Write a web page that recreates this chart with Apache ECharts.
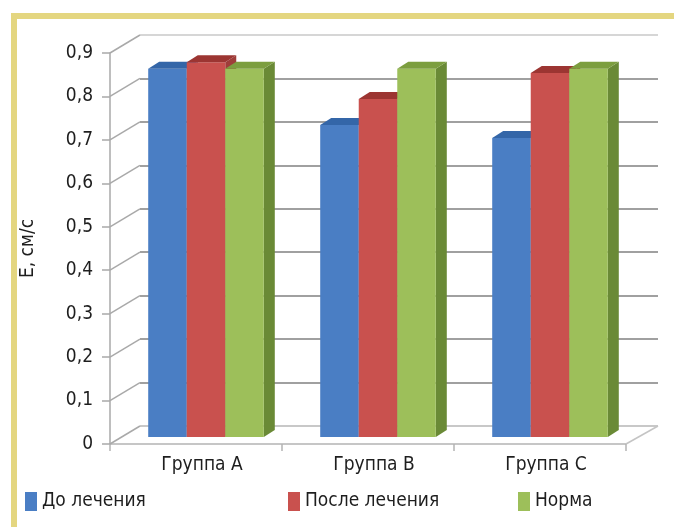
<!DOCTYPE html>
<html>
<head>
<meta charset="utf-8">
<script src="https://cdn.jsdelivr.net/npm/echarts@6/dist/echarts.min.js"></script>
<style>
    html, body { margin: 0; padding: 0; background: #fff; }
    #chart { width: 674px; height: 527px; }
</style>
</head>
<body>
<div id="chart"></div>
<script>
    var categories = ['Группа A', 'Группа B', 'Группа C'];
    var seriesNames = ['До лечения', 'После лечения', 'Норма'];
    var beforeValues = [0.85, 0.72, 0.69];
    var afterValues = [0.865, 0.78, 0.84];
    var normValues = [0.85, 0.85, 0.85];
    var yTickValues = [0, 0.1, 0.2, 0.3, 0.4, 0.5, 0.6, 0.7, 0.8, 0.9];
    var yTickLabels = ['0', '0,1', '0,2', '0,3', '0,4', '0,5', '0,6', '0,7', '0,8', '0,9'];

    var FONT = '"Liberation Sans Narrow", "DejaVu Sans Condensed", sans-serif';
    var FONT_SIZE = 19;
    var TEXT_COLOR = '#1e1e1e';
    // смещение задней стенки относительно передней плоскости
    var DEPTH_X = 30, DEPTH_Y = -18;
    // глубина самих столбиков
    var BAR_DX = 11, BAR_DY = -7;
    var BAR_RATIO = 0.224;

    // цвета: лицевая грань, верх, бок
    var palette = [
        { front: '#4a7ec4', top: '#3466a8', side: '#2f5c98' },
        { front: '#c9514e', top: '#9c3532', side: '#9f3d3a' },
        { front: '#9dbf5a', top: '#7c9e3f', side: '#6a8a36' }
    ];

    function toPairs(arr) {
        return arr.map(function(v, i){ return [i, v]; });
    }

    function barRender(order) {
        var c = palette[order];
        return function(params, api) {
            var cat = api.value(0);
            var val = api.value(1);
            var catW = api.size([1, 0])[0];
            var bw = catW * BAR_RATIO;
            var base = api.coord([cat, 0]);
            var top = api.coord([cat, val]);
            var x0 = base[0] - 1.5 * bw + order * bw;
            var ty = top[1], by = base[1];
            return {
                type: 'group',
                children: [
                    {
                        type: 'polygon',
                        shape: { points: [[x0 + bw, ty], [x0 + bw + BAR_DX, ty + BAR_DY], [x0 + bw + BAR_DX, by + BAR_DY], [x0 + bw, by]] },
                        style: { fill: c.side }
                    },
                    {
                        type: 'rect',
                        shape: { x: x0, y: ty, width: bw, height: by - ty },
                        style: { fill: c.front }
                    },
                    {
                        type: 'polygon',
                        shape: { points: [[x0, ty], [x0 + bw, ty], [x0 + bw + BAR_DX, ty + BAR_DY], [x0 + BAR_DX, ty + BAR_DY]] },
                        style: { fill: c.top }
                    }
                ]
            };
        };
    }

    // диагонали от делений передней оси к задней стенке
    function depthLines(params, api) {
        var y = api.coord([0, api.value(1)])[1];
        var x = params.coordSys.x;
        return {
            type: 'line',
            shape: { x1: x, y1: y, x2: x + DEPTH_X, y2: y + DEPTH_Y },
            style: { stroke: '#a9a9a9', lineWidth: 1.5 }
        };
    }

    function floorEdge(params, api) {
        var y = api.coord([0, api.value(1)])[1];
        var x = params.coordSys.x + params.coordSys.width;
        return {
            type: 'line',
            shape: { x1: x, y1: y, x2: x + DEPTH_X + 2, y2: y + DEPTH_Y },
            style: { stroke: '#c4c4c4', lineWidth: 1.5 }
        };
    }

    var valueAxisBase = { type: 'value', min: 0, max: 0.9, interval: 0.1 };

    var myChart = echarts.init(document.getElementById('chart'));
    var option = {
        backgroundColor: '#fff',
        animation: false,
        textStyle: { fontFamily: FONT },
        graphic: [
            { type: 'rect', shape: { x: 11, y: 13, width: 663, height: 6 }, style: { fill: '#e4d680' } },
            { type: 'rect', shape: { x: 11, y: 13, width: 6, height: 514 }, style: { fill: '#e4d680' } }
        ],
        legend: [
            { data: [seriesNames[0]], left: 20, top: 487 },
            { data: [seriesNames[1]], left: 283, top: 487 },
            { data: [seriesNames[2]], left: 513, top: 487 }
        ].map(function(l){
            l.icon = 'rect';
            l.itemWidth = 12;
            l.itemHeight = 19;
            l.itemGap = 6;
            l.textStyle = { fontFamily: FONT, fontSize: FONT_SIZE, color: TEXT_COLOR };
            return l;
        }),
        grid: [
            { left: 110, top: 53, width: 516, height: 391 },
            { left: 140, top: 35, width: 518, height: 391 },
            { left: 120, top: 47, width: 516, height: 390 }
        ],
        xAxis: [
            {
                type: 'category', gridIndex: 0, data: categories,
                axisLine: { lineStyle: { color: '#b4b4b4', width: 1.5 } },
                axisTick: { show: true, length: 7, lineStyle: { color: '#b4b4b4', width: 1.5 } },
                axisLabel: { fontFamily: FONT, fontSize: FONT_SIZE, color: TEXT_COLOR, margin: 12, padding: [0, 0, 0, 12] },
                splitLine: { show: false }
            },
            { type: 'category', gridIndex: 1, data: categories, show: false },
            { type: 'category', gridIndex: 2, data: categories, show: false }
        ],
        yAxis: [
            Object.assign({}, valueAxisBase, {
                gridIndex: 0,
                name: 'Е, см/с',
                nameLocation: 'middle',
                nameGap: 72,
                nameTextStyle: { fontFamily: FONT, fontSize: FONT_SIZE, color: TEXT_COLOR },
                axisLine: { show: true, lineStyle: { color: '#a9a9a9', width: 1.5 } },
                axisTick: { show: true, length: 8, lineStyle: { color: '#a9a9a9', width: 1.5 } },
                axisLabel: {
                    fontFamily: FONT, fontSize: FONT_SIZE, color: TEXT_COLOR, margin: 17,
                    formatter: function(v){
                        var i = yTickValues.indexOf(Math.round(v * 10) / 10);
                        return i >= 0 ? yTickLabels[i] : '';
                    }
                },
                splitLine: { show: false }
            }),
            Object.assign({}, valueAxisBase, {
                gridIndex: 1,
                axisLine: { show: false },
                axisTick: { show: false },
                axisLabel: { show: false },
                splitLine: {
                    show: true,
                    lineStyle: {
                        width: 2,
                        color: ['#c8c8c8', '#a0a0a0', '#a0a0a0', '#a0a0a0', '#a0a0a0', '#a0a0a0', '#a0a0a0', '#a0a0a0', '#a0a0a0', '#d6d6d6']
                    }
                }
            }),
            Object.assign({}, valueAxisBase, { gridIndex: 2, show: false })
        ],
        series: [
            {
                type: 'custom', name: 'depth', xAxisIndex: 0, yAxisIndex: 0, silent: true,
                renderItem: depthLines,
                data: yTickValues.map(function(v){ return [0, v]; }),
                z: 1
            },
            {
                type: 'custom', name: 'floor', xAxisIndex: 0, yAxisIndex: 0, silent: true,
                renderItem: floorEdge,
                data: [[categories.length - 1, 0]],
                z: 1
            },
            {
                type: 'custom', name: seriesNames[0], xAxisIndex: 2, yAxisIndex: 2,
                itemStyle: { color: palette[0].front },
                renderItem: barRender(0), data: toPairs(beforeValues), z: 3
            },
            {
                type: 'custom', name: seriesNames[1], xAxisIndex: 2, yAxisIndex: 2,
                itemStyle: { color: palette[1].front },
                renderItem: barRender(1), data: toPairs(afterValues), z: 3
            },
            {
                type: 'custom', name: seriesNames[2], xAxisIndex: 2, yAxisIndex: 2,
                itemStyle: { color: palette[2].front },
                renderItem: barRender(2), data: toPairs(normValues), z: 3
            }
        ]
    };
    myChart.setOption(option);
</script>
</body>
</html>
